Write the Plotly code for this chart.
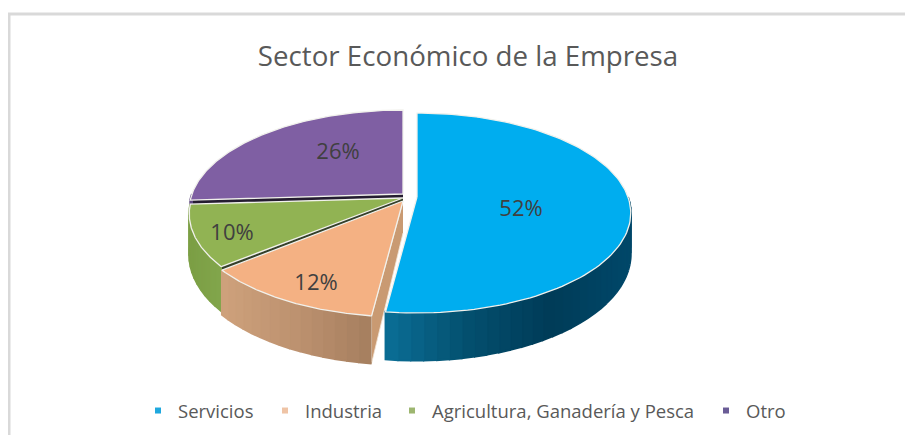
import numpy as np
import plotly.graph_objects as go

# --- data ---
categories = ["Servicios", "Industria", "Agricultura, Ganadería y Pesca", "Otro"]
values = [52, 12, 10, 26]
title_text = "Sector Económico de la Empresa"

# --- style / geometry (pixel space of the page) ---
top_colors = ["#00ADEF", "#F4B183", "#91B353", "#7F5FA3"]
legend_colors = ["#1FA8DE", "#EFC4A6", "#9DB670", "#6A5C96"]
legend_widths = [82, 82, 269, 44]
side_stops = [
    ["#0B6F97", "#04506F", "#003C58", "#00486A"],
    ["#CFA27C", "#BD9270", "#A67F5F"],
    ["#7C9F45", "#82A64C"],
    ["#5E4680", "#5E4680"],
]
wall_colors = [None, "#C99A72", "#34402A", "#241C30"]
apex = [(417, 197), (403, 201), (403, 198), (403, 194)]
label_pos = [(521, 210), (316, 284), (232, 234), (338, 153)]
SX, SY, K, DEPTH = 211.0, 97.4, 0.16, 40.0
BODY = 8  # page margin around the plot


def project(theta, cx, cy, r=1.0):
    X, Y = r * np.sin(theta), r * np.cos(theta)
    d = 1 + K * Y
    return cx + SX * X / d, cy - SY * Y / d


def depth(theta):
    return DEPTH / (1 + K * np.cos(theta))


def hex2rgb(h):
    return np.array([int(h[i:i + 2], 16) for i in (1, 3, 5)], float)


def ramp(stops, f):
    p = f * (len(stops) - 1)
    i = min(int(p), len(stops) - 2)
    c = hex2rgb(stops[i]) * (1 - (p - i)) + hex2rgb(stops[i + 1]) * (p - i)
    return "rgb(%d,%d,%d)" % tuple(c)


cum = np.cumsum([0] + values) / sum(values) * 2 * np.pi
fig = go.Figure()


def poly(xs, ys, fill, line=None, width=1.0, name=None):
    fig.add_trace(go.Scatter(
        x=list(xs), y=list(ys), mode="lines", fill="toself", fillcolor=fill,
        line=dict(color=line or fill, width=width), showlegend=False,
        hoverinfo="text" if name else "skip", text=name, name=name or ""))


# frame: top and left rules only
fig.add_trace(go.Scatter(x=[9, 9, 913], y=[435, 14, 14], mode="lines",
                         line=dict(color="#D9D9D9", width=3),
                         showlegend=False, hoverinfo="skip"))

# back-to-front drawing order
for idx in [3, 2, 1, 0]:
    a0, a1 = cum[idx], cum[idx + 1]
    cx, cy = apex[idx]
    # radial wall seen through the explosion gap
    if wall_colors[idx]:
        ex, ey = project(a0, cx, cy)
        poly([cx, ex, ex, cx], [cy, ey, ey + depth(a0), cy + 32],
             wall_colors[idx], "#F3E6D8" if idx == 1 else wall_colors[idx], 0.8)
    # outer rim, front-facing part, as thin shaded strips
    lo, hi = max(a0, np.pi / 2), min(a1, 1.5 * np.pi)
    if hi > lo:
        n = max(6, int((hi - lo) / 0.05))
        edges = np.linspace(lo, hi, n + 1)
        xe, _ = project(edges, cx, cy)
        for j in range(n):
            t = np.linspace(edges[j], edges[j + 1], 3)
            x, y = project(t, cx, cy)
            yb = y + depth(t)
            f = (0.5 * (xe[j] + xe[j + 1]) - xe.min()) / (xe.max() - xe.min())
            c = ramp(side_stops[idx], f)
            poly(np.r_[x, x[::-1]], np.r_[y, yb[::-1]], c, c, 2.0)
    # top face
    t = np.linspace(a0, a1, 120)
    x, y = project(t, cx, cy)
    poly(np.r_[cx, x, cx], np.r_[cy, y, cy], top_colors[idx], "#F1F1EC", 1.3,
         name="%s: %d%%" % (categories[idx], values[idx]))

# percentage labels
fig.add_trace(go.Scatter(
    x=[p[0] for p in label_pos], y=[p[1] for p in label_pos], mode="text",
    text=["%d%%" % v for v in values],
    textfont=dict(family="Open Sans", size=22, color="#404040"),
    showlegend=False, hoverinfo="skip"))

# legend entries
for name, col, lw in zip(categories, legend_colors, legend_widths):
    fig.add_trace(go.Scatter(
        x=[None], y=[None], mode="markers", name=name, legendwidth=lw,
        marker=dict(symbol="square", size=6, color=col)))

W, H = 913 - BODY, 435 - BODY
fig.update_layout(
    width=W, height=H,
    margin=dict(l=0, r=0, t=0, b=0),
    paper_bgcolor="white", plot_bgcolor="white",
    xaxis=dict(range=[BODY, 913], visible=False, fixedrange=True),
    yaxis=dict(range=[435, BODY], visible=False, fixedrange=True),
    title=dict(text=title_text, x=(468 - BODY) / W, xanchor="center",
               y=1 - (56 - BODY) / H, yanchor="middle",
               font=dict(family="Open Sans", size=27.7, color="#595959")),
    legend=dict(orientation="h", x=(138 - BODY) / W, xanchor="left",
                y=1 - (411 - BODY) / H, yanchor="middle",
                font=dict(family="Open Sans", size=18.5, color="#595959"),
                itemwidth=30, bgcolor="rgba(0,0,0,0)", traceorder="normal"),
)
fig.write_html("out.html")
